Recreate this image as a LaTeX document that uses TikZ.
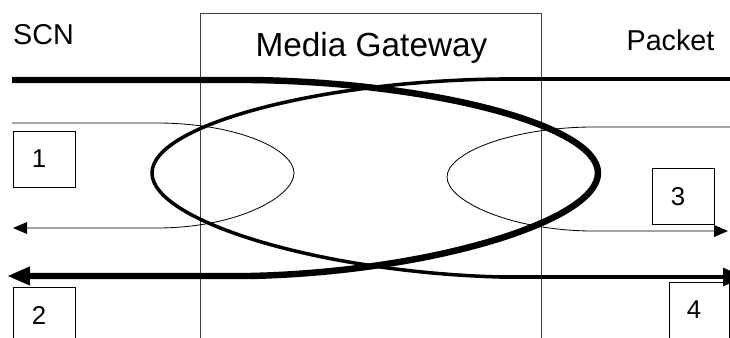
\documentclass[tikz,border=0pt]{standalone}
\usepackage{fontspec}
\setmainfont{Liberation Sans}
\usetikzlibrary{arrows.meta}
\tikzset{
    % Gateway frame (open at the bottom)
    gwframe/.style={
        draw=black!75,
        line width=0.7pt,
        minimum width=10.23cm,
        minimum height=10.41cm,
        inner sep=0pt
    },
    % Numbered boxes (digit sits a little left of centre)
    numbox/.style={
        draw=black,
        line width=0.8pt,
        minimum width=1.86cm,
        minimum height=1.68cm,
        inner sep=0pt,
        font=\fontsize{22}{24}\selectfont,
        execute at begin node={\kern-3mm}
    },
    % Network labels
    sidelabel/.style={
        inner sep=0pt,
        font=\fontsize{24.5}{28}\selectfont
    },
    % Gateway title
    gwlabel/.style={
        inner sep=0pt,
        anchor=base,
        font=\fontsize{28.5}{32}\selectfont
    },
    % Thin flows
    thinflow/.style={
        line width=0.7pt,
        -{Triangle[length=4.2mm,width=3.6mm,line width=0pt]}
    },
    % Medium flow
    midflow/.style={
        line width=3pt,
        -{Triangle[length=6.6mm,width=5.6mm,line width=0pt]}
    },
    % Thick flow
    thickflow/.style={
        line width=5.5pt,
        -{Triangle[length=6.6mm,width=5.8mm,line width=0pt]}
    }
}

\begin{document}
\begin{tikzpicture}[x=0.03cm, y=-0.03cm]

\useasboundingbox (0,0) rectangle (730,338);
\clip (0,0) rectangle (730,338);

% ==================== GATEWAY ====================
\node[gwframe] (gateway) at (370.5,186.5) {};
\node[gwlabel] (gwtitle) at (371.5,57) {Media Gateway};

% ==================== NETWORK LABELS ====================
\node[sidelabel] (scn) at (43.5,34.5) {SCN};
\node[sidelabel] (packet) at (670.5,40) {Packet};

% ==================== FLOW END POINTS ====================
\coordinate (aIn) at (12,80);
\coordinate (aOut) at (8,276);
\coordinate (bIn) at (730,79);
\coordinate (bOut) at (745,277);
\coordinate (cIn) at (12,123);
\coordinate (cOut) at (13,228);
\coordinate (dIn) at (730,127);
\coordinate (dOut) at (728,231);

% ==================== FLOWS ====================
% SCN side, thick: loops round the packet side
\draw[thickflow] (aIn) -- (250,80)
    .. controls (430,82) and (598,125) .. (598,173)
    .. controls (598,221) and (430,272) .. (250,276) -- (aOut);

% Packet side, medium: loops round the SCN side
\draw[midflow] (bIn) -- (500,79)
    .. controls (320,81) and (152,125) .. (152,173)
    .. controls (152,221) and (320,272) .. (500,277) -- (bOut);

% SCN side, thin
\draw[thinflow] (cIn) -- (160,123)
    .. controls (240,124) and (294,150) .. (294,173)
    .. controls (294,196) and (240,227) .. (160,228) -- (cOut);

% Packet side, thin
\draw[thinflow] (dIn) -- (590,127)
    .. controls (510,128) and (447,153) .. (447,177)
    .. controls (447,201) and (510,230) .. (590,231) -- (dOut);

% ==================== NUMBERED BOXES ====================
\node[numbox] (box1) at (44,159) {1};
\node[numbox] (box2) at (44,315) {2};
\node[numbox] (box3) at (683,196.5) {3};
\node[numbox, minimum width=1.8cm] (box4) at (699,310) {4};

\end{tikzpicture}
\end{document}
